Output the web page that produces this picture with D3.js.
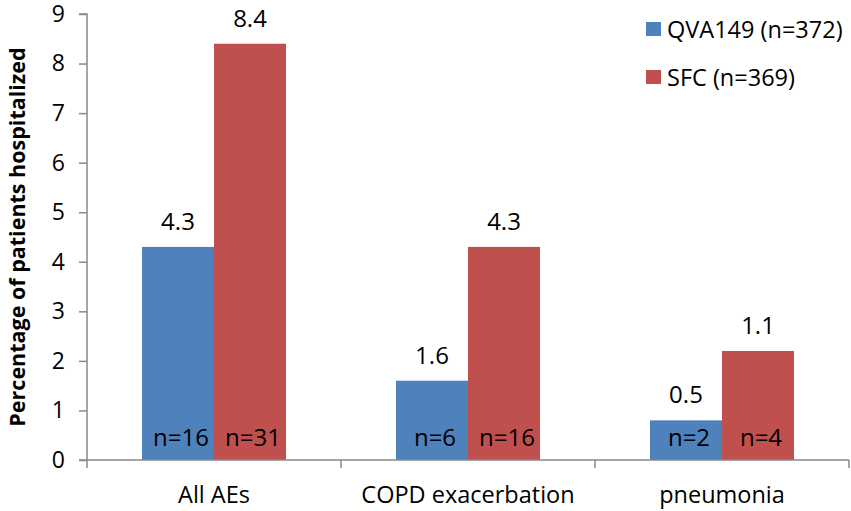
<!DOCTYPE html>
<html>
<head>
<meta charset="utf-8">
<script src="https://cdn.jsdelivr.net/npm/d3@7"></script>
<style>
  html, body { margin: 0; padding: 0; background: #fff; }
  svg { display: block; font-family: "Open Sans", sans-serif; }
</style>
</head>
<body>
<svg id="chart" width="851" height="511"></svg>
<script>
const categories = ["All AEs", "COPD exacerbation", "pneumonia"];
const seriesNames = ["QVA149 (n=372)", "SFC (n=369)"];
const seriesColors = ["#4F81BD", "#C0504D"];
// bar heights as drawn
const qvaValues = [4.3, 1.6, 0.8];
const sfcValues = [8.4, 4.3, 2.2];
// printed labels
const qvaLabels = ["4.3", "1.6", "0.5"];
const sfcLabels = ["8.4", "4.3", "1.1"];
const qvaCounts = ["n=16", "n=6", "n=2"];
const sfcCounts = ["n=31", "n=16", "n=4"];
const yTicks = [0, 1, 2, 3, 4, 5, 6, 7, 8, 9];
const yTitle = "Percentage of patients hospitalized";

const series = [
  { name: seriesNames[0], color: seriesColors[0], values: qvaValues, labels: qvaLabels, counts: qvaCounts },
  { name: seriesNames[1], color: seriesColors[1], values: sfcValues, labels: sfcLabels, counts: sfcCounts }
];

const svg = d3.select("#chart");
const margin = { left: 87, right: 2, top: 14, bottom: 51 };
const W = 851, H = 511;

const x = d3.scaleBand().domain(categories).range([margin.left, W - margin.right]).paddingInner(0).paddingOuter(0);
const y = d3.scaleLinear().domain([0, 9]).range([H - margin.bottom, margin.top]);
const groupFrac = 0.567;
const inner = d3.scaleBand().domain([0, 1]).range([0, x.bandwidth() * groupFrac]).padding(0);
const groupOffset = x.bandwidth() * (1 - groupFrac) / 2;

// bars
series.forEach((s, si) => {
  const g = svg.append("g");
  g.selectAll("rect").data(categories).join("rect")
    .attr("x", (c) => x(c) + groupOffset + inner(si))
    .attr("y", (c, i) => y(s.values[i]))
    .attr("width", inner.bandwidth())
    .attr("height", (c, i) => y(0) - y(s.values[i]))
    .attr("fill", s.color);
  g.selectAll("text.val").data(categories).join("text")
    .attr("class", "val")
    .attr("x", (c) => x(c) + groupOffset + inner(si) + inner.bandwidth() / 2)
    .attr("y", (c, i) => y(s.values[i]) - 17)
    .attr("text-anchor", "middle")
    .attr("font-size", 24)
    .attr("fill", "#000")
    .text((c, i) => s.labels[i]);
  g.selectAll("text.cnt").data(categories).join("text")
    .attr("class", "cnt")
    .attr("x", (c) => x(c) + groupOffset + inner(si) + inner.bandwidth() / 2 + 3)
    .attr("y", y(0) - 14)
    .attr("text-anchor", "middle")
    .attr("font-size", 24)
    .attr("fill", "#000")
    .text((c, i) => s.counts[i]);
});

// y axis
const yAxis = d3.axisLeft(y).tickValues(yTicks).tickSize(8).tickPadding(14).tickFormat(d3.format("d"));
const yg = svg.append("g").attr("transform", `translate(${margin.left},0)`).call(yAxis);
yg.select(".domain").attr("stroke", "#888").attr("stroke-width", 1.5);
yg.selectAll(".tick line").attr("stroke", "#888").attr("stroke-width", 1.5);
yg.selectAll(".tick text").attr("font-size", 23).attr("font-family", "Open Sans, sans-serif").attr("fill", "#000");
yg.select(".domain").attr("d", `M-8,${y(9)}H0V${y(0)}`);

// x axis
const xg = svg.append("g").attr("transform", `translate(0,${y(0)})`);
xg.append("line").attr("x1", margin.left - 8).attr("x2", W - margin.right)
  .attr("y1", 0).attr("y2", 0).attr("stroke", "#888").attr("stroke-width", 1.5);
const boundaries = [x(categories[0])].concat(categories.map(c => x(c) + x.bandwidth()));
xg.selectAll("line.tk").data(boundaries).join("line").attr("class", "tk")
  .attr("x1", d => d).attr("x2", d => d).attr("y1", 0).attr("y2", 8)
  .attr("stroke", "#888").attr("stroke-width", 1.5);
xg.selectAll("text").data(categories).join("text")
  .attr("x", c => x(c) + x.bandwidth() / 2)
  .attr("y", 43)
  .attr("text-anchor", "middle")
  .attr("font-size", 23.5)
  .attr("fill", "#000")
  .text(c => c);

// y title
svg.append("text")
  .attr("transform", `translate(25,${(y(0) + y(9)) / 2}) rotate(-90)`)
  .attr("text-anchor", "middle")
  .attr("font-size", 21.5)
  .attr("font-weight", "bold")
  .attr("fill", "#000")
  .text(yTitle);

// legend
const lg = svg.append("g").attr("transform", "translate(646,22)");
series.forEach((s, i) => {
  const row = lg.append("g").attr("transform", `translate(0,${i * 48})`);
  row.append("rect").attr("width", 15).attr("height", 14).attr("fill", s.color);
  row.append("text").attr("x", 21).attr("y", 16).attr("font-size", 23.5).attr("fill", "#000").text(s.name);
});
</script>
</body>
</html>
